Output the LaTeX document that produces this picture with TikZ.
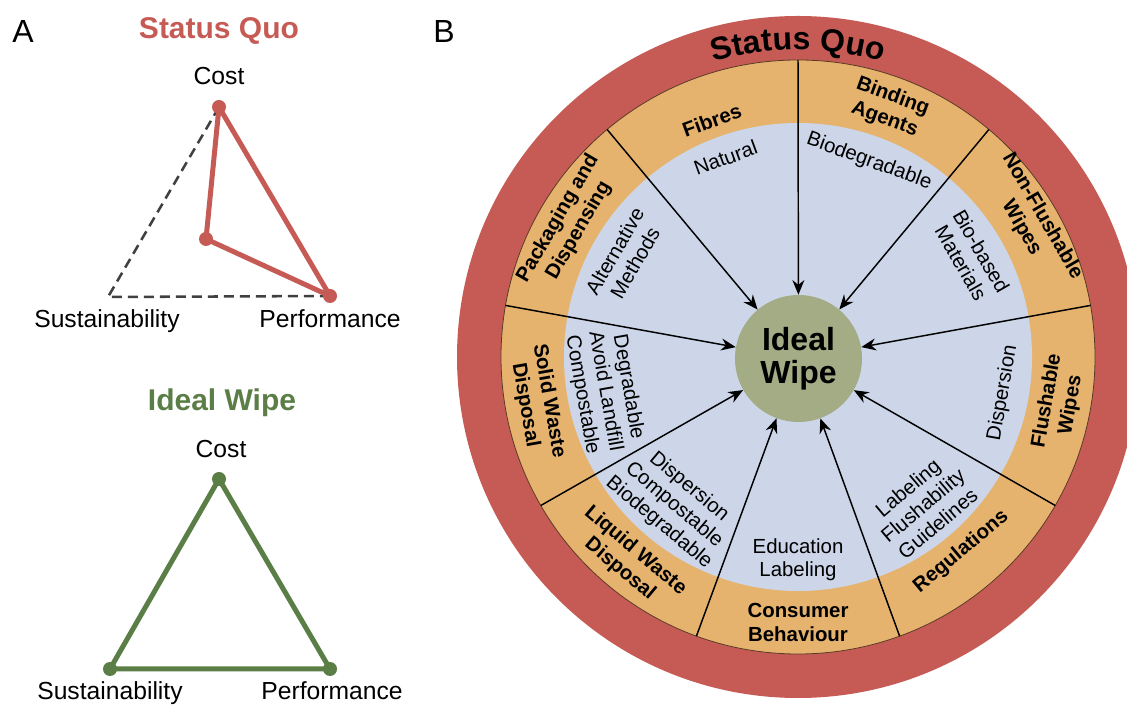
\documentclass[tikz,border=0pt]{standalone}
\usepackage{fontspec}
\setmainfont{Liberation Sans}
\usetikzlibrary{arrows.meta,decorations.text}

\definecolor{sqred}{HTML}{C65B55}
\definecolor{ringorange}{HTML}{E6B36F}
\definecolor{coreblue}{HTML}{CCD6E8}
\definecolor{hubgreen}{HTML}{A4AC86}
\definecolor{idgreen}{HTML}{5A7E46}
\definecolor{dashgray}{HTML}{404040}
\definecolor{rimline}{HTML}{5A3A25}

\newcommand\wheeltitlefont{\fontsize{24}{24}\selectfont\bfseries}

\begin{document}
\begin{tikzpicture}[x=0.75pt,y=0.75pt,
  panel/.style={font=\fontsize{24}{24}\selectfont, anchor=base, inner sep=0},
  title/.style={font=\fontsize{22.5}{24}\selectfont\bfseries, anchor=base, inner sep=0},
  axislab/.style={font=\fontsize{18.5}{20}\selectfont, anchor=base, inner sep=0},
  sqline/.style={draw=sqred, line width=3.75pt, line join=round},
  idline/.style={draw=idgreen, line width=3.75pt, line join=round},
  sqdot/.style={circle, fill=sqred, inner sep=0, minimum size=10.5pt},
  iddot/.style={circle, fill=idgreen, inner sep=0, minimum size=10.5pt},
  seclab/.style={font=\fontsize{15.3}{18}\selectfont\bfseries, align=center, inner sep=0},
  innerlab/.style={font=\fontsize{15.3}{17.5}\selectfont, align=center, inner sep=0},
  spoke/.style={line width=1.1pt, -{Stealth[length=11pt,width=9pt]}},
]
\useasboundingbox (0,0) rectangle (1127,706);
\clip (0,0) rectangle (1127,706);

% ---------- panel A ----------
\node[panel] (labA) at (23,663) {A};
\node[panel] (labB) at (444,663) {B};

% status quo triangle
\node[title, text=sqred] (sqtitle) at (219,667) {Status Quo};
\node[axislab] (sqcost) at (219,621) {Cost};
\node[axislab] (sqsust) at (107,378) {Sustainability};
\node[axislab] (sqperf) at (330,378) {Performance};
\coordinate (sqC) at (219,599);
\coordinate (sqS) at (206,467);
\coordinate (sqP) at (330,410);
\coordinate (sqS0) at (108,409);
\draw[dashgray, line width=1.9pt, dash pattern=on 7.5pt off 4.5pt] (sqC) -- (sqS0) -- (sqP);
\draw[sqline] (sqC) -- (sqS) -- (sqP) -- cycle;
\node[sqdot] (sqCd) at (sqC) {};
\node[sqdot] (sqSd) at (sqS) {};
\node[sqdot] (sqPd) at (sqP) {};

% ideal wipe triangle
\node[title, text=idgreen] (idtitle) at (222,295) {Ideal Wipe};
\node[axislab] (idcost) at (221,248) {Cost};
\node[axislab] (idsust) at (110,6) {Sustainability};
\node[axislab] (idperf) at (332,6) {Performance};
\coordinate (idC) at (219,227);
\coordinate (idS) at (110,37);
\coordinate (idP) at (330,37);
\draw[idline] (idC) -- (idS) -- (idP) -- cycle;
\node[iddot] (idCd) at (idC) {};
\node[iddot] (idSd) at (idS) {};
\node[iddot] (idPd) at (idP) {};

% ---------- panel B: the wheel ----------
\begin{scope}[shift={(798,349)}]
  \fill[sqred] (0,0) circle[radius=341];
  \filldraw[fill=ringorange, draw=rimline, line width=0.6pt] (0,0) circle[radius=297];
  \fill[coreblue] (0,0) circle[radius=234];

  \path[decorate, decoration={text along path, text align=center,
      text={|\wheeltitlefont|Status Quo}}]
    (160:307) arc[start angle=160, end angle=20, radius=307];

  \node[circle, fill=hubgreen, minimum size=95.25pt, inner sep=0,
        font=\fontsize{24}{25}\selectfont\bfseries, align=center] (hub) at (0.5,-1.5) {Ideal\\Wipe};

  \foreach \a [count=\i] in {90,50,10,-30,-70,-110,-150,170,130} {
    \coordinate (rim\i) at (\a:297);
    \draw[spoke] (rim\i) -- (hub);
  }

  % ring categories
  \node[seclab, rotate=20]  (fibres)    at (110:252)  {Fibres};
  \node[seclab, rotate=-20] (binding)   at (70:265)   {Binding\\Agents};
  \node[seclab, rotate=-60] (nonflush)  at (30:270)   {Non-Flushable\\Wipes};
  \node[seclab, rotate=80]  (flush)     at (-10:265)  {Flushable\\Wipes};
  \node[seclab, rotate=40]  (regs)      at (-50:254)  {Regulations};
  \node[seclab]             (consumer)  at (-90:265)  {Consumer\\Behaviour};
  \node[seclab, rotate=-40] (liquid)    at (-130:265) {Liquid Waste\\Disposal};
  \node[seclab, rotate=-80] (solid)     at (-170:265) {Solid Waste\\Disposal};
  \node[seclab, rotate=60]  (packaging) at (150:265)  {Packaging and\\Dispensing};

  % targets inside each category
  \node[innerlab, rotate=20]  (natural)  at (110:212)  {Natural};
  \node[innerlab, rotate=-20] (biodeg)   at (70:208)   {Biodegradable};
  \node[innerlab, rotate=-60] (biobased) at (30:200)   {Bio-based\\Materials};
  \node[innerlab, rotate=80]  (disp)     at (-10:208)  {Dispersion};
  \node[innerlab, rotate=40]  (labeling) at (-50:194)  {Labeling\\Flushability\\Guidelines};
  \node[innerlab]             (educ)     at (-90:203)  {Education\\Labeling};
  \node[innerlab, rotate=-40] (liqtgt)   at (-130:193) {Dispersion\\Compostable\\Biodegradable};
  \node[innerlab, rotate=-80] (soltgt)   at (-170:196) {Degradable\\Avoid Landfill\\Compostable};
  \node[innerlab, rotate=60]  (alt)      at (150:200)  {Alternative\\Methods};
\end{scope}
\end{tikzpicture}
\end{document}
